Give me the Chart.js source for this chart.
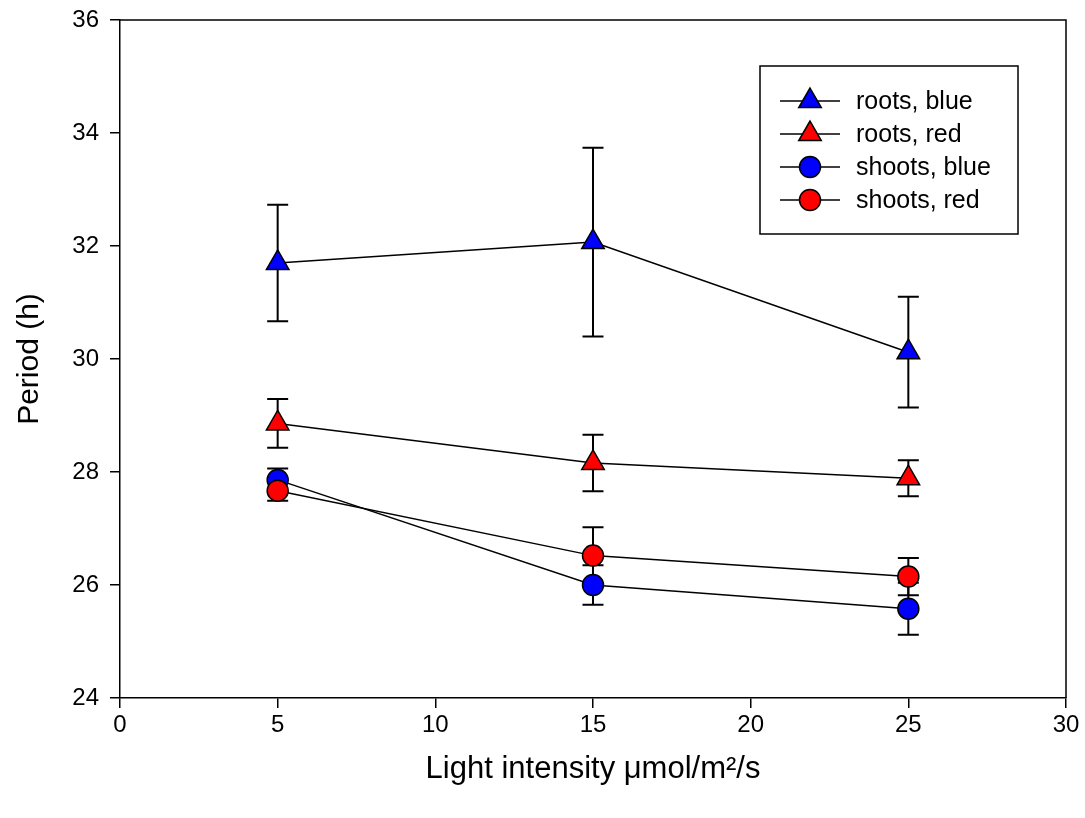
<!DOCTYPE html>
<html>
<head>
<meta charset="utf-8">
<script src="https://cdn.jsdelivr.net/npm/chart.js@4/dist/chart.umd.min.js"></script>
<style>
  html, body { margin: 0; padding: 0; background: #fff; }
  #wrap { width: 1085px; height: 818px; }
</style>
</head>
<body>
<div id="wrap"><canvas id="myChart"></canvas></div>
<script>
// light intensity (umol/m2/s)
const intensities = [5, 15, 25];

const rootsBlue = [31.70, 32.07, 30.12];
const rootsBlueErr = [1.03, 1.67, 0.98];
const rootsRed = [28.86, 28.16, 27.89];
const rootsRedErr = [0.43, 0.50, 0.32];
const shootsBlue = [27.86, 26.00, 25.58];
const shootsBlueErr = [0.20, 0.35, 0.46];
const shootsRed = [27.67, 26.52, 26.15];
const shootsRedErr = [0.18, 0.50, 0.33];

const xTicks = [0, 5, 10, 15, 20, 25, 30];
const yTicks = [24, 26, 28, 30, 32, 34, 36];

const FONT = "'Liberation Sans', Arial, sans-serif";
const TRI_R = 13, CIRC_R = 10.5;

function makeSet(label, values, errors, color, style, order) {
    return {
        label,
        data: intensities.map((x, i) => ({ x, y: values[i] })),
        errors,
        showLine: true,
        borderColor: '#000',
        borderWidth: 1.5,
        pointStyle: style,
        pointRadius: style === 'triangle' ? TRI_R : CIRC_R,
        pointBorderWidth: 1.5,
        pointBackgroundColor: color,
        pointBorderColor: '#000',
        order
    };
}

const errorBars = {
    id: 'errorBars',
    beforeDatasetsDraw(chart) {
        const { ctx, scales: { x, y } } = chart;
        ctx.save();
        ctx.strokeStyle = '#000';
        ctx.lineWidth = 2;
        chart.data.datasets.forEach(ds => {
            ds.data.forEach((p, i) => {
                const px = x.getPixelForValue(p.x);
                const top = y.getPixelForValue(p.y + ds.errors[i]);
                const bot = y.getPixelForValue(p.y - ds.errors[i]);
                ctx.beginPath();
                ctx.moveTo(px, top); ctx.lineTo(px, bot);
                ctx.moveTo(px - 10.5, top); ctx.lineTo(px + 10.5, top);
                ctx.moveTo(px - 10.5, bot); ctx.lineTo(px + 10.5, bot);
                ctx.stroke();
            });
        });
        ctx.restore();
    }
};

function drawMarker(ctx, style, cx, cy, color) {
    ctx.beginPath();
    if (style === 'triangle') {
        const r = TRI_R;
        ctx.moveTo(cx, cy - r);
        ctx.lineTo(cx + r * Math.sin(Math.PI / 3), cy + r / 2);
        ctx.lineTo(cx - r * Math.sin(Math.PI / 3), cy + r / 2);
        ctx.closePath();
    } else {
        ctx.arc(cx, cy, CIRC_R, 0, Math.PI * 2);
    }
    ctx.fillStyle = color;
    ctx.fill();
    ctx.stroke();
}

// frame on top/right + legend box inside the plot
const frameAndLegend = {
    id: 'frameAndLegend',
    afterDraw(chart) {
        const { ctx, chartArea: a } = chart;
        ctx.save();
        ctx.strokeStyle = '#000';
        ctx.lineWidth = 1.5;
        ctx.beginPath();
        ctx.moveTo(a.left, a.top);
        ctx.lineTo(a.right, a.top);
        ctx.lineTo(a.right, a.bottom);
        ctx.stroke();

        const bx = a.right - 306, by = a.top + 46, bw = 258, bh = 168;
        ctx.strokeRect(bx, by, bw, bh);
        ctx.font = '25px ' + FONT;
        ctx.textBaseline = 'middle';
        chart.data.datasets.forEach((ds, i) => {
            const cy = by + 35 + i * 33;
            ctx.beginPath();
            ctx.moveTo(bx + 20, cy); ctx.lineTo(bx + 80, cy);
            ctx.stroke();
            drawMarker(ctx, ds.pointStyle, bx + 50, cy, ds.pointBackgroundColor);
            ctx.fillStyle = '#000';
            ctx.fillText(ds.label, bx + 96, cy + 1);
        });
        ctx.restore();
    }
};

const axisStyle = {
    grid: { display: true, drawOnChartArea: false, drawTicks: true, tickLength: 10, color: '#000', lineWidth: 1.5 },
    border: { display: true, color: '#000', width: 1.5 }
};

new Chart(document.getElementById('myChart'), {
    type: 'scatter',
    data: {
        datasets: [
            makeSet('roots, blue', rootsBlue, rootsBlueErr, '#0000ff', 'triangle', 4),
            makeSet('roots, red', rootsRed, rootsRedErr, '#ff0000', 'triangle', 3),
            makeSet('shoots, blue', shootsBlue, shootsBlueErr, '#0000ff', 'circle', 2),
            makeSet('shoots, red', shootsRed, shootsRedErr, '#ff0000', 'circle', 1)
        ]
    },
    options: {
        responsive: true,
        maintainAspectRatio: false,
        animation: false,
        layout: { padding: { left: 0, top: 20, right: 19, bottom: 0 } },
        plugins: { legend: { display: false }, tooltip: { enabled: false } },
        scales: {
            x: {
                type: 'linear', min: 0, max: 30,
                ...axisStyle,
                afterBuildTicks: s => { s.ticks = xTicks.map(v => ({ value: v })); },
                afterFit: s => { s.height = 120; s.paddingLeft = 0; s.paddingRight = 0; },
                ticks: { color: '#000', font: { family: FONT, size: 24 }, padding: 3, maxRotation: 0 },
                title: { display: true, text: 'Light intensity \u03bcmol/m\u00b2/s', color: '#000',
                         font: { family: FONT, size: 31 }, padding: { top: 30, bottom: 30 } }
            },
            y: {
                type: 'linear', min: 24, max: 36,
                ...axisStyle,
                afterBuildTicks: s => { s.ticks = yTicks.map(v => ({ value: v })); },
                afterFit: s => { s.width = 120; s.paddingTop = 0; s.paddingBottom = 0; },
                ticks: { color: '#000', font: { family: FONT, size: 24 }, padding: 11 },
                title: { display: true, text: 'Period (h)', color: '#000',
                         font: { family: FONT, size: 30 }, padding: { top: 12, bottom: 12 } }
            }
        }
    },
    plugins: [errorBars, frameAndLegend]
});
</script>
</body>
</html>
